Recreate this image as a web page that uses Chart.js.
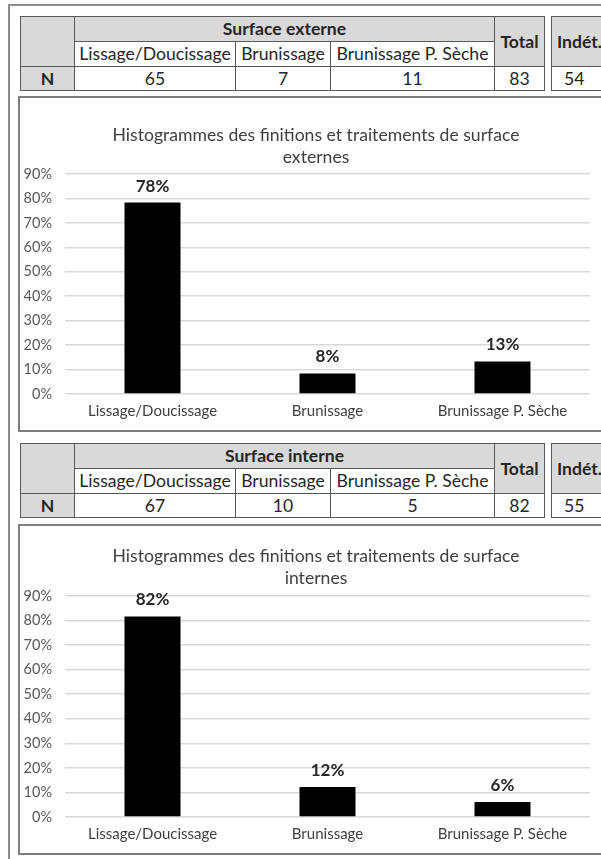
<!DOCTYPE html>
<html>
<head>
<meta charset="utf-8">
<script src="https://cdn.jsdelivr.net/npm/chart.js@4"></script>
<style>
  html, body { margin: 0; padding: 0; background: #fff; overflow: hidden; }
  body { width: 601px; height: 859px; position: relative; font-family: Lato, "Open Sans", sans-serif; }
  #frame { position: absolute; left: 8px; top: 4px; width: 700px; height: 900px; border: 2px solid #8c8c8c; }
  .box { position: absolute; left: 18px; width: 700px; border: 2px solid #7f7f7f; }
  table { position: absolute; border-collapse: collapse; font-size: 17.6px; line-height: 20px; color: #262626; }
  td { border: 1.5px solid #595959; text-align: center; padding: 0; height: 23px; white-space: nowrap; }
  td.gray { background: #d9d9d9; font-weight: bold; }
  canvas { position: absolute; }
</style>
</head>
<body>
<div id="frame"></div>

<table id="t1main" style="left:20px; top:16px;"></table>
<table id="t1indet" style="left:551px; top:16px;"></table>
<div class="box" style="top:96px; height:332px;"></div>
<canvas id="chart1" style="left:20px; top:98px;"></canvas>

<table id="t2main" style="left:20px; top:443px;"></table>
<table id="t2indet" style="left:551px; top:443px;"></table>
<div class="box" style="top:524px; height:327px;"></div>
<canvas id="chart2" style="left:20px; top:526px;"></canvas>

<script>
const categories = ["Lissage/Doucissage", "Brunissage", "Brunissage P. Sèche"];

const externeCounts = [65, 7, 11];
const externeTotal = 83;
const externeIndet = 54;
const externePct = [78.3, 8.4, 13.3];

const interneCounts = [67, 10, 5];
const interneTotal = 82;
const interneIndet = 55;
const internePct = [81.7, 12.2, 6.1];

const yTicks = [0, 10, 20, 30, 40, 50, 60, 70, 80, 90];

const colWidths = [53, 160, 94, 163, 49];

function buildTable(id, title, counts, total) {
    const table = document.getElementById(id);
    let html = "<tr>";
    html += `<td class="gray" rowspan="2" style="width:${colWidths[0]}px"></td>`;
    html += `<td class="gray" colspan="3" style="height:24px">${title}</td>`;
    html += `<td class="gray" rowspan="2" style="width:${colWidths[4]}px">Total</td>`;
    html += "</tr><tr>";
    categories.forEach((c, i) => {
        html += `<td style="width:${colWidths[i + 1]}px; height:24px">${c}</td>`;
    });
    html += "</tr><tr>";
    html += `<td class="gray">N</td>`;
    counts.forEach(n => { html += `<td>${n}</td>`; });
    html += `<td>${total}</td></tr>`;
    table.innerHTML = html;
}

function buildIndet(id, value) {
    const table = document.getElementById(id);
    table.innerHTML = `
        <tr><td class="gray" style="width:70px; height:49px; text-align:left; padding-left:5px">Indét.</td></tr>
        <tr><td style="text-align:left; padding-left:12px">${value}</td></tr>`;
}

buildTable("t1main", "Surface externe", externeCounts, externeTotal);
buildIndet("t1indet", externeIndet);
buildTable("t2main", "Surface interne", interneCounts, interneTotal);
buildIndet("t2indet", interneIndet);

const FONT = "Lato, 'Open Sans', sans-serif";

const barLabels = {
    id: "barLabels",
    afterDatasetsDraw(chart) {
        const ctx = chart.ctx;
        const meta = chart.getDatasetMeta(0);
        ctx.save();
        ctx.font = "bold 17px " + FONT;
        ctx.fillStyle = "#262626";
        ctx.textAlign = "center";
        ctx.textBaseline = "bottom";
        meta.data.forEach((bar, i) => {
            const v = chart.data.datasets[0].data[i];
            ctx.fillText(Math.round(v) + "%", bar.x, bar.y - 8);
        });
        ctx.restore();
    }
};

// the built-in title centres on padding.left..chartArea.right, which is off
// by a few px here, so the two title lines are drawn at the box centre instead
const boxTitle = {
    id: "boxTitle",
    afterDraw(chart, args, opts) {
        const ctx = chart.ctx;
        ctx.save();
        ctx.font = "17.6px " + FONT;
        ctx.fillStyle = "#404040";
        ctx.textAlign = "center";
        ctx.textBaseline = "middle";
        opts.lines.forEach((line, i) => {
            ctx.fillText(line, opts.x, opts.y + i * 22);
        });
        ctx.restore();
    }
};

function createChart(id, width, height, titleLines, values, titleY, padTop, padBottom) {
    const canvas = document.getElementById(id);
    canvas.width = width;
    canvas.height = height;
    return new Chart(canvas.getContext("2d"), {
        type: "bar",
        data: {
            labels: categories,
            datasets: [{
                data: values,
                backgroundColor: "#000000",
                barPercentage: 0.32,
                categoryPercentage: 1
            }]
        },
        plugins: [barLabels, boxTitle],
        options: {
            responsive: false,
            animation: false,
            layout: { padding: { left: 2, right: 22, top: padTop, bottom: padBottom } },
            plugins: {
                legend: { display: false },
                tooltip: { enabled: false },
                title: { display: false },
                boxTitle: { lines: titleLines, x: 296, y: titleY }
            },
            scales: {
                x: {
                    grid: { display: false, drawTicks: false },
                    border: { display: false },
                    ticks: { color: "#404040", font: { family: FONT, size: 15 }, padding: 8 }
                },
                y: {
                    min: 0,
                    max: 90,
                    afterBuildTicks: axis => { axis.ticks = yTicks.map(v => ({ value: v })); },
                    afterFit: axis => { axis.width = 43; },
                    grid: { color: "#d9d9d9", lineWidth: 1.5, drawTicks: false },
                    border: { display: false },
                    ticks: {
                        color: "#595959",
                        font: { family: FONT, size: 14.5 },
                        padding: 13,
                        callback: v => v + "%"
                    }
                }
            }
        }
    });
}

createChart("chart1", 592, 330,
    ["Histogrammes des finitions et traitements de surface", "externes"], externePct, 37, 76, 0);
createChart("chart2", 592, 325,
    ["Histogrammes des finitions et traitements de surface", "internes"], internePct, 30, 70, 0);
</script>
</body>
</html>
